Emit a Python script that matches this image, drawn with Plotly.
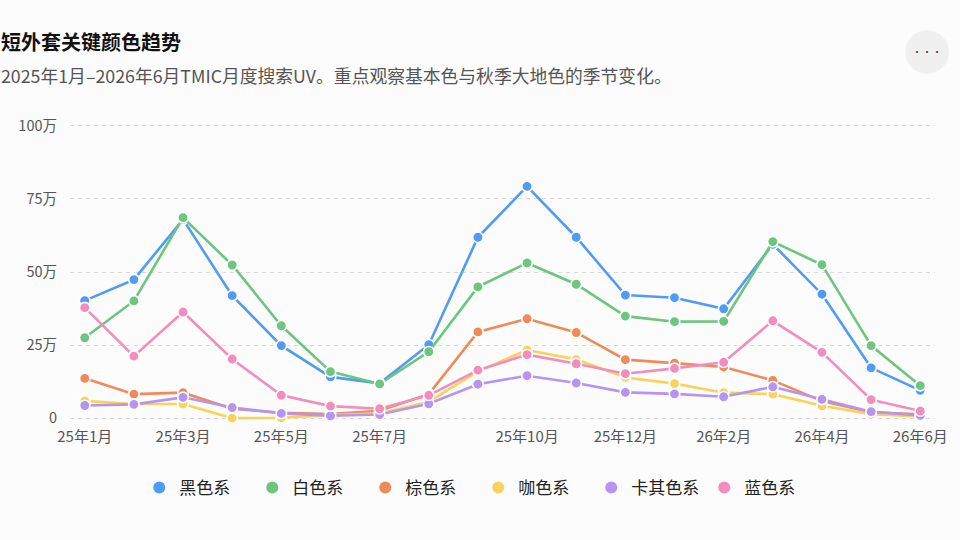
import plotly.graph_objects as go

months = ["25年1月", "25年2月", "25年3月", "25年4月", "25年5月", "25年6月",
          "25年7月", "25年8月", "25年9月", "25年10月", "25年11月", "25年12月",
          "26年1月", "26年2月", "26年3月", "26年4月", "26年5月", "26年6月"]
x_tick_labels = ["25年1月", "25年3月", "25年5月", "25年7月", "25年10月",
                 "25年12月", "26年2月", "26年4月", "26年6月"]
y_tick_vals = [0, 25, 50, 75, 100]
y_tick_text = ["0", "25万", "50万", "75万", "100万"]

series_names = ["黑色系", "白色系", "棕色系", "咖色系", "卡其色系", "蓝色系"]
black = [40.2, 47.4, 68.0, 41.9, 24.8, 14.1, 11.9, 25.1, 61.9, 79.3, 61.9, 42.1, 41.2, 37.4, 59.5, 42.4, 17.2, 9.5]
white = [27.5, 40.1, 68.6, 52.4, 31.6, 15.9, 11.7, 22.7, 44.9, 53.1, 45.8, 34.9, 33.0, 33.1, 60.4, 52.5, 24.8, 11.1]
brown = [13.6, 8.2, 8.7, 3.2, 1.8, 1.4, 2.5, 8.2, 29.5, 34.0, 29.3, 20.0, 18.8, 17.5, 12.9, 5.8, 2.0, 1.3]
coffee = [5.9, 4.8, 4.8, 0.0, 0.1, 1.0, 1.6, 5.6, 16.0, 23.3, 20.1, 13.9, 11.8, 8.7, 8.2, 4.2, 1.3, 0.6]
khaki = [4.3, 4.7, 7.1, 3.6, 1.6, 0.8, 1.2, 4.9, 11.6, 14.5, 12.0, 8.8, 8.3, 7.3, 10.7, 6.4, 2.2, 0.9]
blue = [37.8, 21.2, 36.3, 20.2, 7.8, 4.1, 3.2, 7.8, 16.4, 21.7, 18.6, 15.2, 17.0, 19.1, 33.3, 22.5, 6.3, 2.4]
series_values = [black, white, brown, coffee, khaki, blue]
colors = ["#4f9bf6", "#6cc67e", "#f08a58", "#f8d35c", "#b794f2", "#f38dbd"]

FONT = "Noto Sans CJK SC"

# plot area in pixels (y range padded so the edge gridlines are drawn)
L, R, T, B = 70, 945, 123, 421
PW, PH = R - L, B - T
YPAD = 1.0

def px(xp):
    return (xp - L) / PW

def py(yp):
    return (B - yp) / PH

fig = go.Figure()
for name, vals, c in zip(series_names, series_values, colors):
    fig.add_trace(go.Scatter(
        x=months, y=vals, name=name, mode="lines+markers",
        line=dict(color=c, width=2.6),
        marker=dict(size=10.5, color=c, line=dict(color="white", width=1.6)),
        cliponaxis=False, showlegend=False, legendgroup=name,
    ))
for name, c in zip(series_names, colors):
    fig.add_trace(go.Scatter(
        x=[None], y=[None], name=name, mode="markers",
        marker=dict(size=12, color=c), legendgroup=name, showlegend=True,
    ))

fig.update_layout(
    width=960, height=540,
    margin=dict(l=L, r=960 - R, t=T, b=540 - B, pad=0),
    paper_bgcolor="#fcfcfc", plot_bgcolor="#fcfcfc",
    font=dict(family=FONT, color="#555555", size=14),
    xaxis=dict(
        type="category", range=[-0.3, 17.3],
        tickmode="array", tickvals=x_tick_labels, ticktext=x_tick_labels,
        showgrid=False, zeroline=False, showline=False, ticks="",
        ticklabelstandoff=5,
        tickfont=dict(size=15, color="#555555"),
    ),
    yaxis=dict(
        range=[-YPAD, 100 + YPAD], tickmode="array", tickvals=y_tick_vals, ticktext=y_tick_text,
        showgrid=True, gridcolor="#d9d9d9", griddash="4px,4px", gridwidth=1,
        zeroline=False, showline=False, ticks="", ticklabelstandoff=12,
        tickfont=dict(size=14.5, color="#555555"),
    ),
    legend=dict(
        orientation="h", x=px(483), xanchor="center", y=py(488), yanchor="middle",
        font=dict(size=17, color="#222222"), entrywidth=68, entrywidthmode="pixels",
        itemsizing="trace", bgcolor="rgba(0,0,0,0)",
    ),
    showlegend=True,
    shapes=[dict(type="circle", xref="paper", yref="paper",
                 x0=px(915), x1=px(959), y0=py(30), y1=py(74),
                 fillcolor="#f0f0f0", line=dict(width=0), layer="below")],
    annotations=[
        dict(text="<b>短外套关键颜色趋势</b>", xref="paper", yref="paper",
             x=px(-2), y=py(42), xanchor="left", yanchor="middle", showarrow=False,
             font=dict(size=20, color="#111111", family=FONT)),
        dict(text="2025年1月–2026年6月TMIC月度搜索UV。重点观察基本色与秋季大地色的季节变化。",
             xref="paper", yref="paper", x=px(-2), y=py(75), xanchor="left", yanchor="middle",
             showarrow=False, font=dict(size=17.8, color="#555555", family=FONT)),
        dict(text="•••", xref="paper", yref="paper", x=px(937), y=py(52),
             xanchor="center", yanchor="middle", showarrow=False,
             font=dict(size=10, color="#444444", family=FONT)),
    ],
)

fig.write_html("out.html", config={"displayModeBar": False},
               post_script="document.body.style.margin='0';")
